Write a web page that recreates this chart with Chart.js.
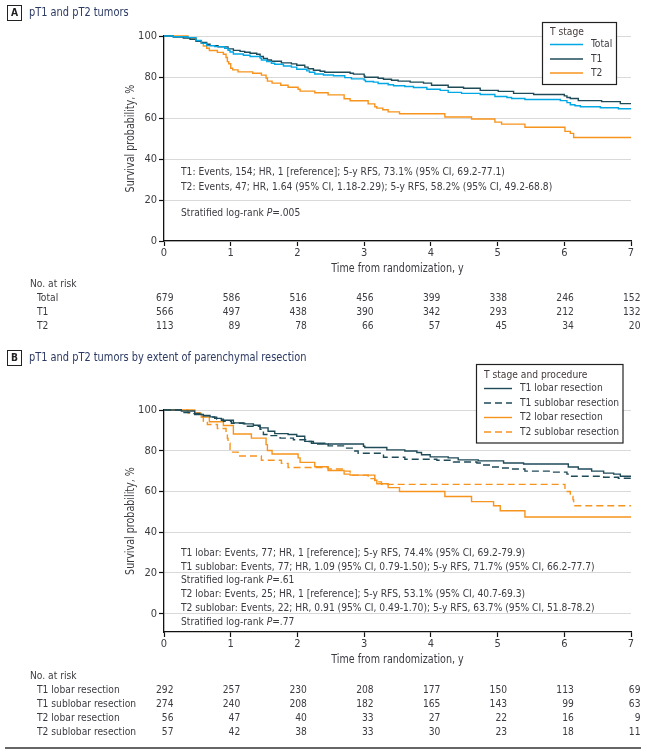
<!DOCTYPE html>
<html>
<head>
<meta charset="utf-8">
<script src="https://cdn.jsdelivr.net/npm/chart.js@4.4.1/dist/chart.umd.min.js"></script>
<style>
  html, body { margin: 0; padding: 0; background: #fff; }
  #wrap { position: relative; width: 647px; height: 756px; overflow: hidden; }
  canvas { position: absolute; left: 0; }
  #chartA { top: 0; }
  #chartB { top: 345px; }
</style>
</head>
<body>
<div id="wrap">
  <canvas id="chartA" width="647" height="345"></canvas>
  <canvas id="chartB" width="647" height="411"></canvas>
</div>
<script>
// Kaplan-Meier curves (time in years, survival in %)

// Panel A
const aTotalTime = [0, 0.14, 0.36, 0.48, 0.56, 0.64, 0.76, 0.91, 0.96, 0.99, 1.04, 1.19, 1.29, 1.44, 1.46, 1.54, 1.61, 1.66, 1.79, 1.91, 1.99, 2.14, 2.18, 2.26, 2.39, 2.54, 2.71, 2.81, 3.00, 3.02, 3.14, 3.21, 3.36, 3.44, 3.61, 3.74, 3.94, 4.14, 4.26, 4.46, 4.74, 4.96, 5.14, 5.21, 5.41, 5.94, 6.04, 6.09, 6.16, 6.24, 6.54, 6.81, 7];
const aTotalSurv = [100, 99.6, 99.2, 97.8, 96.4, 95.3, 94.8, 94.0, 93.0, 92.2, 91.2, 90.6, 90.0, 89.2, 88.3, 87.5, 86.7, 86.2, 85.4, 84.8, 83.8, 83.0, 82.3, 81.5, 81.0, 80.6, 79.7, 79.1, 78.5, 77.8, 77.5, 76.8, 76.2, 75.7, 75.4, 74.9, 74.0, 73.5, 72.5, 72.0, 71.5, 70.5, 70.0, 69.5, 69.0, 68.5, 67.5, 66.5, 66.0, 65.5, 65.0, 64.5, 64.5];

const aT1Time = [0, 0.14, 0.29, 0.39, 0.48, 0.56, 0.64, 0.69, 0.81, 0.96, 1.04, 1.14, 1.21, 1.29, 1.39, 1.44, 1.49, 1.55, 1.61, 1.76, 1.91, 1.99, 2.11, 2.16, 2.24, 2.34, 2.41, 2.79, 2.84, 3.00, 3.01, 3.21, 3.29, 3.41, 3.51, 3.69, 3.89, 4.01, 4.26, 4.49, 4.74, 5.01, 5.24, 5.54, 6.00, 6.04, 6.09, 6.21, 6.56, 6.84, 7];
const aT1Surv = [100, 99.5, 99.0, 98.4, 97.4, 96.8, 96.0, 95.3, 94.7, 93.7, 93.0, 92.5, 92.1, 91.6, 91.1, 90.0, 89.1, 88.3, 87.7, 86.9, 86.4, 85.7, 84.8, 84.0, 83.3, 82.8, 82.3, 81.8, 81.4, 80.5, 79.9, 79.4, 78.9, 78.4, 78.0, 77.5, 77.0, 76.0, 75.0, 74.5, 73.5, 73.0, 72.0, 71.5, 70.8, 70.0, 69.5, 68.5, 68.0, 67.0, 67.0];

const aT2Time = [0, 0.36, 0.48, 0.56, 0.59, 0.64, 0.68, 0.80, 0.89, 0.93, 0.95, 0.97, 1.00, 1.03, 1.11, 1.33, 1.46, 1.53, 1.55, 1.62, 1.75, 1.86, 2.01, 2.04, 2.26, 2.46, 2.70, 2.79, 3.06, 3.16, 3.19, 3.28, 3.36, 3.53, 4.21, 4.61, 4.96, 5.06, 5.41, 6.01, 6.09, 6.14, 7];
const aT2Surv = [100, 98.9, 97.7, 96.5, 95.1, 94.0, 92.9, 92.0, 91.1, 89.5, 87.5, 86.5, 84.3, 83.5, 82.5, 81.8, 80.9, 79.5, 78.0, 77.0, 76.0, 75.0, 74.0, 73.1, 72.3, 71.3, 69.4, 68.4, 66.9, 65.5, 64.8, 64.0, 63.0, 62.1, 60.5, 59.5, 58.0, 57.0, 55.5, 53.5, 52.5, 50.5, 50.5];

// Panel B
const bT1LobTime = [0, 0.26, 0.46, 0.59, 0.69, 0.76, 0.86, 1.04, 1.19, 1.34, 1.44, 1.56, 1.66, 1.86, 1.99, 2.11, 2.21, 2.41, 2.99, 3.01, 3.34, 3.61, 3.79, 3.86, 3.99, 4.26, 4.41, 4.71, 5.09, 5.39, 6.06, 6.21, 6.41, 6.59, 6.74, 6.84, 7];
const bT1LobSurv = [100, 99.5, 97.8, 97.3, 96.6, 95.9, 95.0, 93.7, 93.2, 92.5, 91.2, 89.6, 88.4, 88.0, 87.1, 84.6, 83.7, 83.3, 82.2, 81.6, 80.4, 79.9, 79.1, 78.0, 77.0, 76.5, 75.5, 75.0, 74.0, 73.5, 72.0, 71.0, 70.0, 69.0, 68.5, 67.5, 67.5];

const bT1SubTime = [0, 0.30, 0.45, 0.59, 0.69, 0.79, 0.89, 1.01, 1.21, 1.44, 1.49, 1.59, 1.74, 1.94, 2.14, 2.24, 2.46, 2.71, 2.84, 2.91, 3.29, 3.61, 4.09, 4.34, 4.69, 4.74, 4.89, 5.04, 5.19, 5.41, 5.84, 6.04, 6.11, 6.59, 6.81, 7];
const bT1SubSurv = [100, 98.7, 98.3, 97.2, 96.5, 95.5, 94.5, 93.5, 92.0, 90.5, 88.0, 87.4, 86.2, 85.4, 84.5, 83.3, 82.4, 81.3, 79.9, 78.8, 76.8, 75.8, 75.3, 74.5, 74.0, 73.0, 72.0, 71.5, 71.0, 70.0, 69.5, 68.5, 67.5, 67.0, 66.5, 66.5];

const bT2LobTime = [0, 0.46, 0.56, 0.68, 0.89, 1.04, 1.31, 1.53, 1.55, 1.62, 2.01, 2.04, 2.26, 2.46, 2.70, 2.79, 3.16, 3.19, 3.36, 3.53, 4.21, 4.61, 4.94, 5.04, 5.41, 7];
const bT2LobSurv = [100, 98.3, 96.5, 94.2, 92.4, 88.2, 86.2, 83.0, 80.1, 78.4, 76.5, 74.3, 72.1, 70.3, 68.5, 68.0, 65.5, 63.8, 61.9, 60.0, 57.5, 55.0, 53.0, 50.5, 47.5, 47.5];

const bT2SubTime = [0, 0.36, 0.56, 0.59, 0.65, 0.80, 0.93, 0.95, 0.96, 0.99, 1.11, 1.46, 1.76, 1.86, 2.46, 2.71, 2.79, 3.06, 3.16, 3.26, 6.01, 6.09, 6.13, 6.14, 7];
const bT2SubSurv = [100, 98.5, 96.7, 94.5, 92.9, 90.9, 88.5, 86.0, 83.7, 79.3, 77.4, 75.3, 73.8, 71.8, 71.0, 70.0, 68.0, 66.3, 64.7, 63.5, 60.0, 57.5, 56.0, 53.0, 53.0];

// Axes and number-at-risk tables
const xTicks = [0, 1, 2, 3, 4, 5, 6, 7];
const yTicks = [0, 20, 40, 60, 80, 100];
const riskYears = [0, 1, 2, 3, 4, 5, 6, 7];

const aRiskNames = ['Total', 'T1', 'T2'];
const aRiskTotal = [679, 586, 516, 456, 399, 338, 246, 152];
const aRiskT1 = [566, 497, 438, 390, 342, 293, 212, 132];
const aRiskT2 = [113, 89, 78, 66, 57, 45, 34, 20];

const bRiskNames = ['T1 lobar resection', 'T1 sublobar resection', 'T2 lobar resection', 'T2 sublobar resection'];
const bRiskT1Lob = [292, 257, 230, 208, 177, 150, 113, 69];
const bRiskT1Sub = [274, 240, 208, 182, 165, 143, 99, 63];
const bRiskT2Lob = [56, 47, 40, 33, 27, 22, 16, 9];
const bRiskT2Sub = [57, 42, 38, 33, 30, 23, 18, 11];

// Text blocks
const aNotes = [
  'T1: Events, 154; HR, 1 [reference]; 5-y RFS, 73.1% (95% CI, 69.2-77.1)',
  'T2: Events, 47; HR, 1.64 (95% CI, 1.18-2.29); 5-y RFS, 58.2% (95% CI, 49.2-68.8)'
];
const bNotes = [
  'T1 lobar: Events, 77; HR, 1 [reference]; 5-y RFS, 74.4% (95% CI, 69.2-79.9)',
  'T1 sublobar: Events, 77; HR, 1.09 (95% CI, 0.79-1.50); 5-y RFS, 71.7% (95% CI, 66.2-77.7)',
  null,
  'T2 lobar: Events, 25; HR, 1 [reference]; 5-y RFS, 53.1% (95% CI, 40.7-69.3)',
  'T2 sublobar: Events, 22; HR, 0.91 (95% CI, 0.49-1.70); 5-y RFS, 63.7% (95% CI, 51.8-78.2)',
  null
];

const FONT = '"Liberation Sans Narrow", "DejaVu Sans Condensed", sans-serif';
const SX = 0.925; // the original face is narrower than the installed ones
const INK = '#3b3b42';
const TITLE_INK = '#2c3a63';
const LEGEND_INK = '#45393a';
const BLUE = '#00a9e6';
const SLATE = '#1f4b58';
const ORANGE = '#f7941d';

function km(times, surv) {
  return times.map((t, i) => ({ x: t, y: surv[i] }));
}

function curve(label, times, surv, color, dash) {
  return {
    label: label,
    data: km(times, surv),
    borderColor: color,
    borderWidth: 1.4,
    borderDash: dash || [],
    stepped: true,
    pointRadius: 0,
    fill: false,
    clip: 4
  };
}

// draws narrowed text, returns its drawn width
function text(ctx, s, x, y, font, color, align) {
  ctx.save();
  ctx.font = font;
  ctx.fillStyle = color || INK;
  ctx.textAlign = align || 'left';
  ctx.textBaseline = 'middle';
  ctx.translate(x, y);
  ctx.scale(SX, 1);
  ctx.fillText(s, 0, 0);
  const w = ctx.measureText(s).width * SX;
  ctx.restore();
  return w;
}

// "Stratified log-rank P=..." with italic P
function logRank(ctx, value, x, y) {
  const parts = [['Stratified log-rank ', ''], ['P', 'italic '], ['=' + value, '']];
  parts.forEach(p => {
    x += text(ctx, p[0], x, y, p[1] + '11px ' + FONT);
  });
}

function header(ctx, letter, title, y) {
  ctx.strokeStyle = '#222';
  ctx.lineWidth = 1;
  ctx.strokeRect(7.5, y - 7.5, 14, 15);
  text(ctx, letter, 14.5, y + 0.5, 'bold 11px ' + FONT, '#222', 'center');
  text(ctx, title, 29, y, '11.8px ' + FONT, TITLE_INK);
}

function legend(chart, box, title, lineX, rowYs) {
  const ctx = chart.ctx;
  ctx.save();
  ctx.fillStyle = '#fff';
  ctx.fillRect(box[0], box[1], box[2] - box[0], box[3] - box[1]);
  ctx.strokeStyle = '#222';
  ctx.lineWidth = 1.2;
  ctx.strokeRect(box[0], box[1], box[2] - box[0], box[3] - box[1]);
  text(ctx, title.text, title.x, title.y, '11px ' + FONT, LEGEND_INK);
  chart.data.datasets.forEach((ds, i) => {
    const y = rowYs[i];
    ctx.strokeStyle = ds.borderColor;
    ctx.lineWidth = 1.4;
    ctx.setLineDash(ds.borderDash);
    ctx.beginPath();
    ctx.moveTo(lineX[0], y);
    ctx.lineTo(lineX[1], y);
    ctx.stroke();
    ctx.setLineDash([]);
    text(ctx, ds.label, lineX[1] + 8, y, '11px ' + FONT, INK);
  });
  ctx.restore();
}

function riskTable(chart, names, rows, y0, step) {
  const ctx = chart.ctx;
  const xs = chart.scales.x;
  text(ctx, 'No. at risk', 30, y0, '11px ' + FONT);
  rows.forEach((vals, r) => {
    const y = y0 + step * (r + 1);
    text(ctx, names[r], 37, y, '11px ' + FONT);
    vals.forEach((v, i) => {
      text(ctx, String(v), xs.getPixelForValue(riskYears[i]) + 9.5, y, '11px ' + FONT, INK, 'right');
    });
  });
}

function axisTitles(chart) {
  const ctx = chart.ctx;
  const area = chart.chartArea;
  text(ctx, 'Time from randomization, y', (area.left + area.right) / 2, area.bottom + 28, '11.5px ' + FONT, INK, 'center');
  ctx.save();
  ctx.translate(131, (area.top + area.bottom) / 2);
  ctx.rotate(-Math.PI / 2);
  text(ctx, 'Survival probability, %', 0, 0, '11.5px ' + FONT, INK, 'center');
  ctx.restore();
}

function baseOptions(yMin, padTop, xHeight) {
  return {
    responsive: false,
    animation: false,
    events: [],
    layout: { padding: { top: padTop, right: 16, bottom: 0, left: 0 } },
    plugins: { legend: { display: false }, tooltip: { enabled: false } },
    scales: {
      x: {
        type: 'linear',
        min: 0,
        max: 7,
        afterBuildTicks: s => { s.ticks = xTicks.map(v => ({ value: v })); },
        afterFit: s => { s.height = xHeight; },
        ticks: { color: INK, font: { family: FONT, size: 11 }, padding: 1, maxRotation: 0, autoSkip: false },
        grid: { drawOnChartArea: false, tickLength: 5, tickColor: '#111', tickWidth: 1.2 },
        border: { color: '#111', width: 1.3 }
      },
      y: {
        min: yMin,
        max: 100,
        afterBuildTicks: s => { s.ticks = yTicks.map(v => ({ value: v })); },
        afterFit: s => { s.width = 164; },
        ticks: { color: INK, font: { family: FONT, size: 11 }, padding: 2 },
        grid: { color: '#d9d9d9', lineWidth: 1, tickLength: 5, tickColor: '#111', tickWidth: 1.2 },
        border: { color: '#111', width: 1.3 }
      }
    }
  };
}

// Panel A
new Chart(document.getElementById('chartA'), {
  type: 'line',
  data: {
    datasets: [
      curve('Total', aTotalTime, aTotalSurv, BLUE),
      curve('T1', aT1Time, aT1Surv, SLATE),
      curve('T2', aT2Time, aT2Surv, ORANGE)
    ]
  },
  options: baseOptions(0, 36, 104),
  plugins: [{
    id: 'panelA',
    afterDraw(chart) {
      const ctx = chart.ctx;
      header(ctx, 'A', 'pT1 and pT2 tumors', 13);
      axisTitles(chart);
      aNotes.forEach((s, i) => text(ctx, s, 181, 172 + 15 * i, '11px ' + FONT));
      logRank(ctx, '.005', 181, 213);
      legend(chart, [542.5, 22.5, 616.5, 84.5], { text: 'T stage', x: 550, y: 32 }, [550, 583], [44.5, 59, 73]);
      riskTable(chart, aRiskNames, [aRiskTotal, aRiskT1, aRiskT2], 284, 14);
    }
  }]
});

// Panel B
new Chart(document.getElementById('chartB'), {
  type: 'line',
  data: {
    datasets: [
      curve('T1 lobar resection', bT1LobTime, bT1LobSurv, SLATE),
      curve('T1 sublobar resection', bT1SubTime, bT1SubSurv, SLATE, [7, 4]),
      curve('T2 lobar resection', bT2LobTime, bT2LobSurv, ORANGE),
      curve('T2 sublobar resection', bT2SubTime, bT2SubSurv, ORANGE, [7, 4])
    ]
  },
  options: baseOptions(-9, 65, 124),
  plugins: [{
    id: 'panelB',
    afterDraw(chart) {
      const ctx = chart.ctx;
      header(ctx, 'B', 'pT1 and pT2 tumors by extent of parenchymal resection', 13);
      axisTitles(chart);
      bNotes.forEach((s, i) => {
        const y = 208 + 13.8 * i;
        if (s) text(ctx, s, 181, y, '11px ' + FONT);
        else logRank(ctx, i === 2 ? '.61' : '.77', 181, y);
      });
      legend(chart, [476.5, 19.5, 623, 98], { text: 'T stage and procedure', x: 484, y: 30 }, [484, 512], [43.5, 58, 72.5, 87]);
      riskTable(chart, bRiskNames, [bRiskT1Lob, bRiskT1Sub, bRiskT2Lob, bRiskT2Sub], 331, 14);
      ctx.strokeStyle = '#333';
      ctx.lineWidth = 1.5;
      ctx.beginPath();
      ctx.moveTo(5, 403);
      ctx.lineTo(641, 403);
      ctx.stroke();
    }
  }]
});
</script>
</body>
</html>
